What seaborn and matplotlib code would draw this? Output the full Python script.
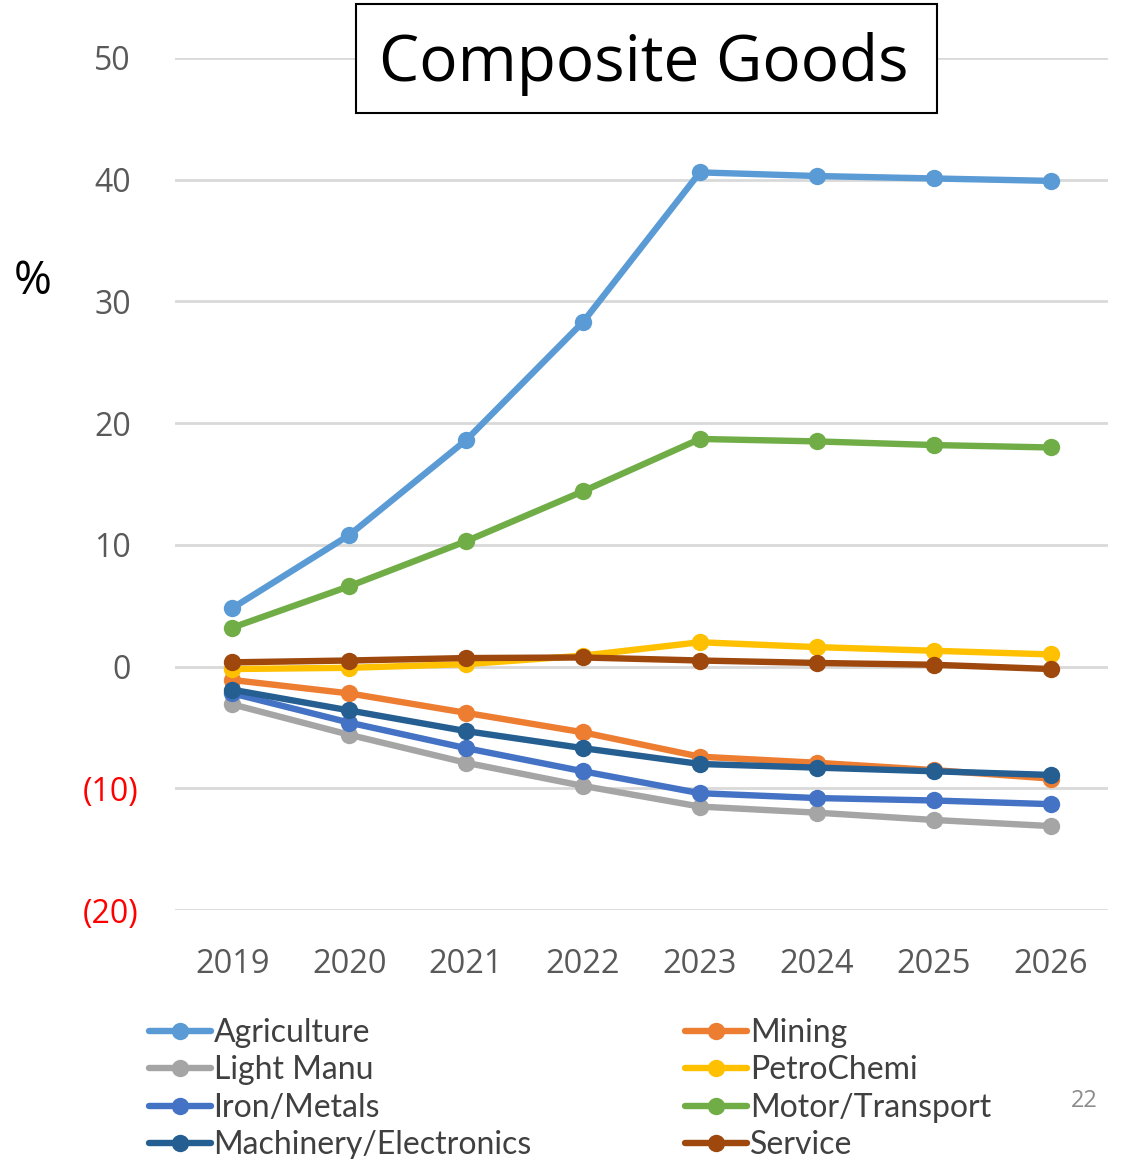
import matplotlib
matplotlib.use("Agg")
import matplotlib.pyplot as plt
from matplotlib.patches import Rectangle
from matplotlib.lines import Line2D
from matplotlib.transforms import ScaledTranslation
import seaborn as sns
import pandas as pd

years = ["2019", "2020", "2021", "2022", "2023", "2024", "2025", "2026"]

agriculture = [4.8, 10.8, 18.6, 28.3, 40.6, 40.3, 40.1, 39.9]
mining = [-1.1, -2.2, -3.8, -5.4, -7.4, -7.9, -8.5, -9.2]
light_manu = [-3.1, -5.6, -7.9, -9.8, -11.5, -12.0, -12.6, -13.1]
petrochemi = [-0.2, -0.1, 0.2, 0.9, 2.0, 1.6, 1.3, 1.0]
iron_metals = [-2.2, -4.6, -6.7, -8.6, -10.4, -10.8, -11.0, -11.3]
motor_transport = [3.2, 6.6, 10.3, 14.4, 18.7, 18.5, 18.2, 18.0]
machinery = [-1.9, -3.6, -5.3, -6.7, -8.0, -8.3, -8.6, -8.9]
service = [0.35, 0.5, 0.7, 0.75, 0.5, 0.3, 0.15, -0.2]

series = {
    "Agriculture": agriculture,
    "Mining": mining,
    "Light Manu": light_manu,
    "PetroChemi": petrochemi,
    "Iron/Metals": iron_metals,
    "Motor/Transport": motor_transport,
    "Machinery/Electronics": machinery,
    "Service": service,
}
colors = {
    "Agriculture": "#5B9BD5",
    "Mining": "#ED7D31",
    "Light Manu": "#A5A5A5",
    "PetroChemi": "#FFC000",
    "Iron/Metals": "#4472C4",
    "Motor/Transport": "#70AD47",
    "Machinery/Electronics": "#255E91",
    "Service": "#9E480E",
}
legend_order = ["Agriculture", "Light Manu", "Iron/Metals", "Machinery/Electronics",
                "Mining", "PetroChemi", "Motor/Transport", "Service"]

rows = []
for name, vals in series.items():
    for i, (yr, v) in enumerate(zip(years, vals)):
        rows.append({"sector": name, "pos": i, "year": yr, "value": v})
df = pd.DataFrame(rows)

sns.set_theme(style="white")
plt.rcParams["font.family"] = ["Open Sans", "DejaVu Sans"]

fig = plt.figure(figsize=(11.27, 11.59), dpi=100)
ax = fig.add_axes([0.1553, 0.2148, 0.983 - 0.1553, 0.950 - 0.2148])

LW = 4.6
MS = 12.5
sns.lineplot(data=df, x="pos", y="value", hue="sector", hue_order=list(series.keys()),
             palette=colors, marker="o", markersize=MS, markeredgewidth=0,
             linewidth=LW, ax=ax, legend=False, zorder=3)

ax.set_xlim(-0.49, 7.49)
ax.set_ylim(-20, 50)
ax.set_xticks(range(len(years)))
ax.set_xticklabels(years)
yticks = [-20, -10, 0, 10, 20, 30, 40, 50]
ax.set_yticks(yticks)
ax.set_yticklabels([f"({abs(t)})" if t < 0 else str(t) for t in yticks])
ax.tick_params(axis="y", labelsize=23, pad=26, length=0)
ax.tick_params(axis="x", labelsize=23.5, pad=27, length=0)
for lbl, t in zip(ax.get_yticklabels(), yticks):
    if t < 0:
        lbl.set_color("#FF0000")
    else:
        lbl.set_color("#595959")
        # plain numbers sit a little left of the bracketed ones
        lbl.set_transform(lbl.get_transform() + ScaledTranslation(-0.08, 0, fig.dpi_scale_trans))
for lbl in ax.get_xticklabels():
    lbl.set_color("#595959")
ax.set_xlabel("")
ax.set_ylabel("")
ax.grid(axis="y", color="#D9D9D9", linewidth=2)
ax.set_axisbelow(True)
for s in ax.spines.values():
    s.set_visible(False)

# unit label
fig.text(14 / 1127, 1 - 282 / 1159, "%", fontsize=33, color="black", va="center", ha="left")

# title in a framed box
fig.patches.append(Rectangle((356 / 1127, 1 - 113 / 1159), (937 - 356) / 1127, (113 - 4) / 1159,
                             transform=fig.transFigure, facecolor="white", edgecolor="black",
                             linewidth=1.5, zorder=5))
fig.text(644 / 1127, 1 - 64 / 1159, "Composite Goods", fontsize=46, color="black",
         ha="center", va="center", zorder=6)

handles = [Line2D([0], [0], color=colors[n], linewidth=LW, marker="o", markersize=MS,
                  markeredgewidth=0) for n in legend_order]
leg = fig.legend(handles, legend_order, ncol=2, loc="upper left",
                 bbox_to_anchor=(136 / 1127, 1 - 1005 / 1159), frameon=False,
                 prop={"family": ["Lato", "DejaVu Sans"], "size": 23},
                 handlelength=1.95, handletextpad=0.08, labelspacing=0.235,
                 columnspacing=4.8, borderaxespad=0)
for t in leg.get_texts():
    t.set_color("#404040")

fig.text(1084 / 1127, 1 - 1101 / 1159, "22", fontsize=17, color="#8C8C8C", ha="center", va="center")

fig.savefig("out.png", dpi=100)
